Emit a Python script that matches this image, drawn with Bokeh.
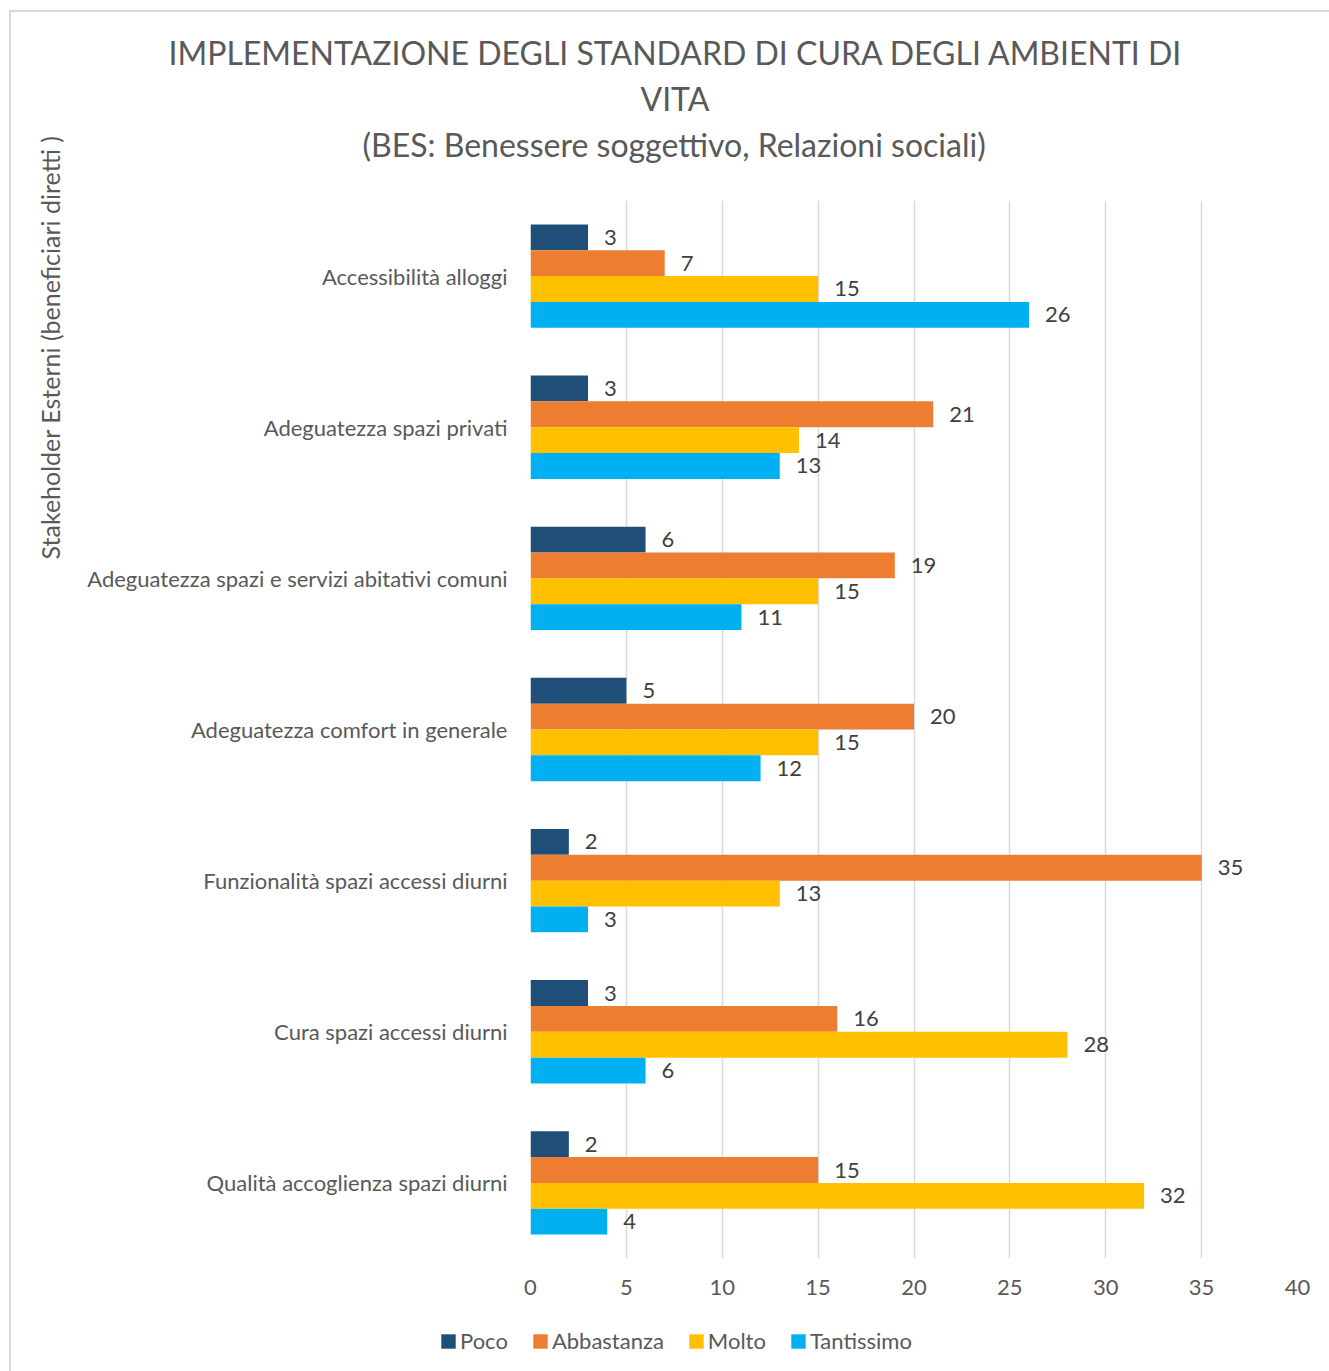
import math
from bokeh.plotting import figure
from bokeh.models import (ColumnDataSource, FactorRange, Range1d, Legend, LegendItem,
                          FixedTicker, Title, InlineStyleSheet)
from bokeh.transform import dodge
from bokeh.core.properties import value
from bokeh.embed import file_html
from bokeh.resources import INLINE

categories = [
    "Accessibilità alloggi",
    "Adeguatezza spazi privati",
    "Adeguatezza spazi e servizi abitativi comuni",
    "Adeguatezza comfort in generale",
    "Funzionalità spazi accessi diurni",
    "Cura spazi accessi diurni",
    "Qualità accoglienza spazi diurni",
]
series_names = ["Poco", "Abbastanza", "Molto", "Tantissimo"]
poco = [3, 3, 6, 5, 2, 3, 2]
abbastanza = [7, 21, 19, 20, 35, 16, 15]
molto = [15, 14, 15, 15, 13, 28, 32]
tantissimo = [26, 13, 11, 12, 3, 6, 4]
x_ticks = [0, 5, 10, 15, 20, 25, 30, 35, 40]
title_lines = [
    "IMPLEMENTAZIONE DEGLI STANDARD DI CURA DEGLI AMBIENTI DI",
    "VITA",
    "(BES: Benessere soggettivo, Relazioni sociali)",
]
y_title = "Stakeholder Esterni (beneficiari diretti )"

colors = ["#1F4E79", "#ED7D31", "#FFC000", "#00B0F0"]
FONT = "Lato"
TXT = "#595959"
FS = "22px"

series_values = [poco, abbastanza, molto, tantissimo]
data = {"cat": categories}
for name, vals in zip(series_names, series_values):
    data[name] = vals
    data[name + "_lbl"] = [str(v) for v in vals]
source = ColumnDataSource(data)

W = 1329
H_MAIN = 1320
H_LEG = 51

border_main = InlineStyleSheet(css="""
:host { position: relative; }
:host::after {
  content: ""; position: absolute; left: 9px; top: 10px; right: -20px; bottom: -20px;
  border-left: 2px solid #D9D9D9; border-top: 2px solid #D9D9D9;
  pointer-events: none; z-index: 10;
}
""")
border_leg = InlineStyleSheet(css="""
:host { position: relative; }
:host::after {
  content: ""; position: absolute; left: 9px; top: 0px; right: -20px; bottom: -20px;
  border-left: 2px solid #D9D9D9;
  pointer-events: none; z-index: 10;
}
""")

p = figure(width=W, height=H_MAIN, output_backend="svg", toolbar_location=None,
           y_range=FactorRange(factors=list(reversed(categories)), range_padding=0),
           x_range=Range1d(0, 40),
           min_border_left=530, min_border_right=32, min_border_top=200, min_border_bottom=62,
           stylesheets=[border_main])
p.outline_line_color = None
p.background_fill_color = "white"
p.border_fill_color = "white"

bar_h = 0.171
offsets = [1.5 * bar_h, 0.5 * bar_h, -0.5 * bar_h, -1.5 * bar_h]
for name, col, off in zip(series_names, colors, offsets):
    p.hbar(y=dodge("cat", off, range=p.y_range), left=0, right=name, height=bar_h,
           fill_color=col, line_color=None, source=source)
    p.text(x=name, y=dodge("cat", off, range=p.y_range), text=name + "_lbl", source=source,
           x_offset=16, text_baseline="middle", text_align="left",
           text_font=value(FONT), text_font_size=FS, text_color="#404040")

p.xaxis.ticker = FixedTicker(ticks=x_ticks)
p.xaxis.axis_line_color = None
p.xaxis.major_tick_line_color = None
p.xaxis.minor_tick_line_color = None
p.xaxis.major_label_text_font = FONT
p.xaxis.major_label_text_font_size = FS
p.xaxis.major_label_text_color = TXT
p.xaxis.major_label_standoff = 15

p.yaxis.axis_line_color = None
p.yaxis.major_tick_line_color = None
p.yaxis.minor_tick_line_color = None
p.yaxis.major_label_text_font = FONT
p.yaxis.major_label_text_font_size = FS
p.yaxis.major_label_text_color = TXT
p.yaxis.major_label_standoff = 17

p.xgrid.grid_line_color = "#D9D9D9"
p.xgrid.grid_line_width = 1.5
p.ygrid.grid_line_color = None

# spacer between the title block and the plot area
p.add_layout(Title(text=" ", text_font_size="10px", standoff=21), "above")
# title lines: added nearest-to-frame first
title_offsets = [-362, 110, -168]
for t, off in reversed(list(zip(title_lines, title_offsets))):
    p.add_layout(Title(text=t, align="left", offset=off, standoff=4.7,
                       text_font=FONT, text_font_size="32px", text_color=TXT,
                       text_font_style="normal"), "above")

p.add_layout(Title(text=y_title, align="left", offset=699, standoff=40,
                   text_font=FONT, text_font_size="25px", text_color=TXT,
                   text_font_style="normal"), "left")

# legend strip below the chart (separate root so its frame spans the full width)
lf = figure(width=W, height=H_LEG, output_backend="svg", toolbar_location=None,
            x_range=Range1d(0, 40),
            y_range=FactorRange(factors=list(reversed(categories)), range_padding=0),
            x_axis_location=None, y_axis_location=None,
            min_border_left=0, min_border_right=0, min_border_top=0, min_border_bottom=0,
            stylesheets=[border_leg])
lf.outline_line_color = None
lf.xgrid.grid_line_color = None
lf.ygrid.grid_line_color = None
items = []
for name, col in zip(series_names, colors):
    # zero-height proxies: only their legend swatch is visible
    r = lf.hbar(y="cat", right=name, left=0, height=0, fill_color=col, line_color=None,
                source=source)
    items.append(LegendItem(label=name, renderers=[r]))
legend = Legend(items=items, orientation="horizontal", location=(439, 17),
                border_line_color=None, background_fill_alpha=0,
                label_text_font=FONT, label_text_font_size=FS, label_text_color=TXT,
                glyph_width=18, glyph_height=18, label_standoff=3, spacing=23,
                padding=0, margin=0)
lf.add_layout(legend, "center")

open("out.html", "w").write(file_html([p, lf], INLINE))
